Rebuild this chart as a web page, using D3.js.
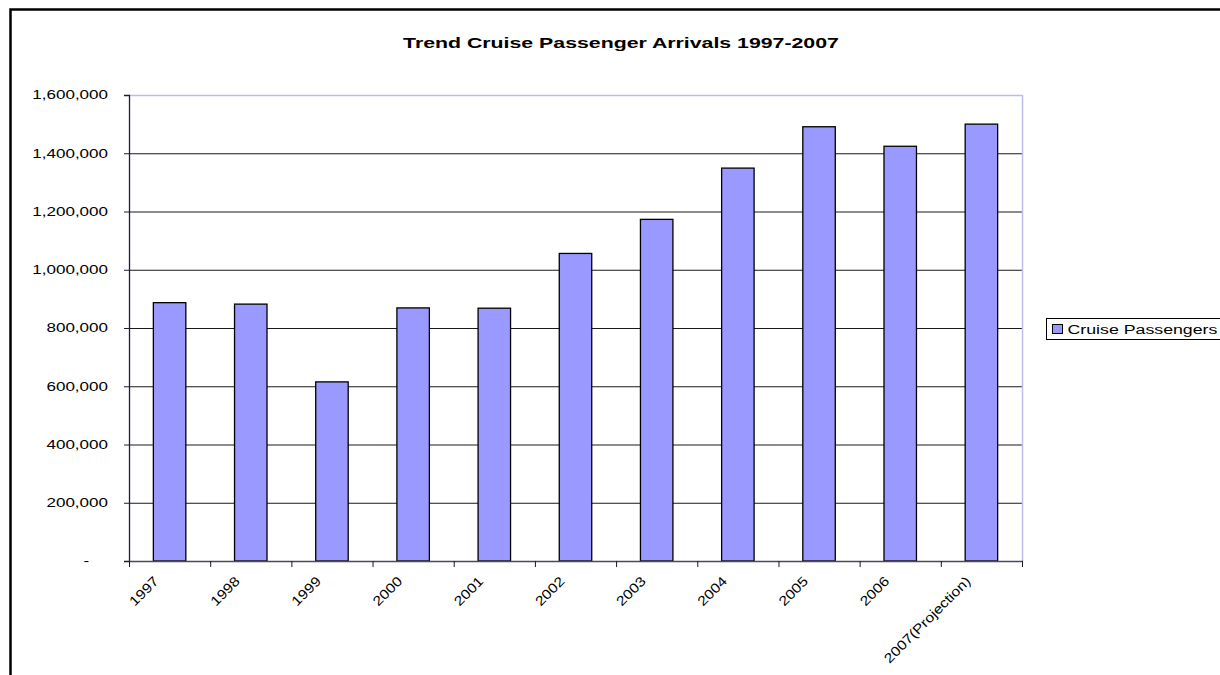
<!DOCTYPE html>
<html>
<head>
<meta charset="utf-8">
<script src="https://cdn.jsdelivr.net/npm/d3@7"></script>
<style>
  html, body { margin: 0; padding: 0; background: #fff; }
  svg { display: block; }
  text { font-family: "Liberation Sans", Arial, Helvetica, sans-serif; fill: #000; }
</style>
</head>
<body>
<svg id="chart" width="1220" height="675"></svg>
<script>
// Cruise passenger arrivals by year
const years = ["1997", "1998", "1999", "2000", "2001", "2002", "2003", "2004", "2005", "2006", "2007(Projection)"];
const passengers = [887000, 882000, 615000, 869000, 868000, 1056000, 1173000, 1349000, 1491000, 1424000, 1500000];

// Value axis ticks and their labels (accounting style: zero shown as a dash)
const yTickValues = [0, 200000, 400000, 600000, 800000, 1000000, 1200000, 1400000, 1600000];
const yTickLabels = ["-\u2007\u2007", "200,000", "400,000", "600,000", "800,000", "1,000,000", "1,200,000", "1,400,000", "1,600,000"];

const seriesName = "Cruise Passengers";
const titleText = "Trend Cruise Passenger Arrivals 1997-2007";

// Horizontal text is drawn with a wide stretch
const STRETCH = 1.42;
const LABEL_STRETCH = 1.17;

const svg = d3.select("#chart");

// Outer frame
svg.append("rect")
  .attr("x", 10.5).attr("y", 9.5)
  .attr("width", 1240).attr("height", 700)
  .attr("fill", "none").attr("stroke", "#000").attr("stroke-width", 2.5);

const plot = { left: 129, right: 1022, top: 95, bottom: 561 };

const x = d3.scaleBand()
  .domain(years)
  .range([plot.left, plot.right])
  .paddingInner(0.6)
  .paddingOuter(0.3);

const y = d3.scaleLinear()
  .domain([0, 1600000])
  .range([plot.bottom, plot.top]);

// Title
svg.append("text")
  .attr("transform", `translate(621,48) scale(${STRETCH},1)`)
  .attr("text-anchor", "middle")
  .attr("font-size", 15)
  .attr("font-weight", "bold")
  .text(titleText);

// Horizontal gridlines
const grid = svg.append("g")
  .attr("transform", `translate(${plot.left},0)`)
  .call(d3.axisLeft(y)
    .tickValues(yTickValues.filter(v => v > 0 && v < 1600000))
    .tickSize(-(plot.right - plot.left))
    .tickFormat(""));
grid.select(".domain").remove();
grid.selectAll(".tick line").attr("stroke", "#1a1a1a").attr("stroke-width", 1);

// Plot area border (top and right)
svg.append("path")
  .attr("d", `M${plot.left},${y(1600000) + 0.5}H${plot.right + 0.5}V${plot.bottom}`)
  .attr("fill", "none")
  .attr("stroke", "#bcbce6")
  .attr("stroke-width", 1.5);

// Bars
svg.append("g")
  .selectAll("rect")
  .data(years)
  .join("rect")
  .attr("x", d => x(d))
  .attr("y", (d, i) => y(passengers[i]))
  .attr("width", x.bandwidth())
  .attr("height", (d, i) => y(0) - y(passengers[i]))
  .attr("fill", "#9999ff")
  .attr("stroke", "#000")
  .attr("stroke-width", 1.3);

// Value axis
const yAxis = svg.append("g")
  .attr("transform", `translate(${plot.left},0)`)
  .call(d3.axisLeft(y)
    .tickValues(yTickValues)
    .tickSize(5)
    .tickPadding(0)
    .tickFormat((d, i) => yTickLabels[i]));
yAxis.select(".domain").attr("stroke", "#1c1c3a").attr("stroke-width", 1.3);
yAxis.selectAll(".tick line").attr("stroke", "#1c1c3a");
yAxis.selectAll(".tick text")
  .attr("font-size", 12)
  .attr("font-family", "'Liberation Sans', Arial, sans-serif")
  .attr("fill", "#000")
  .attr("x", -21 / STRETCH)
  .attr("transform", `scale(${STRETCH},1)`);

// Category axis: ticks sit on the band boundaries
const step = x.step();
const boundaries = d3.range(years.length + 1).map(i => plot.left + i * step);
const xAxis = svg.append("g");
xAxis.append("line")
  .attr("x1", plot.left).attr("x2", plot.right + 1)
  .attr("y1", plot.bottom + 0.5).attr("y2", plot.bottom + 0.5)
  .attr("stroke", "#4a4a5a").attr("stroke-width", 1.3);
xAxis.selectAll("line.tick")
  .data(boundaries)
  .join("line")
  .attr("class", "tick")
  .attr("x1", d => d + 0.5).attr("x2", d => d + 0.5)
  .attr("y1", plot.bottom).attr("y2", plot.bottom + 6)
  .attr("stroke", "#1a1a1a");

// Rotated category labels
xAxis.selectAll("text")
  .data(years)
  .join("text")
  .attr("transform", d => `translate(${x(d) + x.bandwidth() / 2 - 10},582) rotate(-45) scale(${LABEL_STRETCH},1)`)
  .attr("text-anchor", "end")
  .attr("font-size", 13.5)
  .text(d => d);

// Legend
const legend = svg.append("g").attr("transform", "translate(1046.5,318.5)");
legend.append("rect")
  .attr("width", 200).attr("height", 21)
  .attr("fill", "#fff").attr("stroke", "#000").attr("stroke-width", 1);
legend.append("rect")
  .attr("x", 6).attr("y", 6)
  .attr("width", 10).attr("height", 9)
  .attr("fill", "#9999ff").attr("stroke", "#000").attr("stroke-width", 1);
legend.append("text")
  .attr("transform", `translate(21,15.5) scale(${STRETCH},1)`)
  .attr("font-size", 12.5)
  .text(seriesName);
</script>
</body>
</html>
